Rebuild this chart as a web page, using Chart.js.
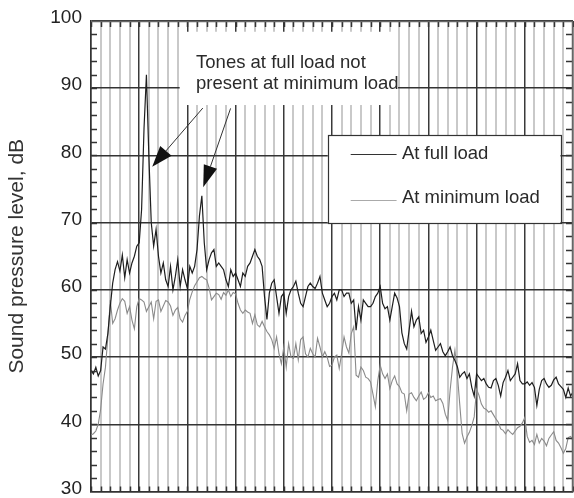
<!DOCTYPE html>
<html>
<head>
<meta charset="utf-8">
<script src="https://cdn.jsdelivr.net/npm/chart.js@4.4.0/dist/chart.umd.min.js"></script>
<style>
  html, body { margin: 0; padding: 0; background: #fff; }
</style>
</head>
<body>
<canvas id="spl" width="574" height="498"></canvas>
<script>
// spectrum, 4 samples per grid cell (50 cells)
var step = 0.25;

var fullLoad = [
  48, 47.5, 48.5, 47.2,   48, 51.5, 51.2, 53.5,   57.5, 61, 63, 64.2,   62.8, 65.2, 61.8, 64.5,
  62.5, 64, 65, 66.5,     67, 72, 84, 92,         80, 70, 66.5, 69,     65, 62.5, 64, 61.5,
  60.5, 63.5, 60, 62,     64.5, 60.5, 63, 61.5,   60.2, 63.5, 62.5, 63.5, 66, 71, 74, 67,
  63, 64.5, 65.5, 66,     63.5, 64, 63.5, 63,     61.5, 60.5, 63, 62,   62.5, 61.5, 60.5, 62.5,
  62, 63.5, 64, 65,       66, 65, 64.5, 63.5,     59, 55.6, 59.5, 61,   61.5, 59, 56.5, 59,
  59.5, 56.5, 59, 60,     60.5, 61.3, 59.5, 58,   57.5, 59, 60.5, 61,   60.5, 60.2, 61, 62,
  59.5, 58.5, 57.5, 58,   59, 59.5, 58.5, 60,     60, 59, 59.5, 59.5,   58, 58.5, 54, 57.5,
  55.5, 58.5, 58, 57.5,   57.5, 58, 59, 59.5,     60.5, 58, 57.2, 57.5, 55.5, 57.5, 59.5, 58.8,
  57.5, 53.6, 52, 51.2,   54, 56.8, 54.5, 55.5,   56, 53.5, 54, 52.2,   53, 54, 52.5, 51,
  51.5, 52, 50.8, 50.2,   50.8, 51.5, 50.2, 49.5, 48.6, 47, 47.5, 47.8, 46.8, 47.5, 45.5, 44.2,
  47.5, 47, 46.5, 46.8,   46, 45.5, 45.4, 46.5,   46.8, 45.8, 44.2, 46.2, 47, 48, 46.5, 47,
  47.5, 49, 46.5, 46,     46, 46.3, 45.8, 46.2,   45.5, 42.8, 45.2, 46.5, 46.8, 46, 45.5, 45.8,
  46.6, 47, 46, 45.6,     45.2, 44, 45.4, 44.2,   44.8
];

var minLoad = [
  38.4, 38.6, 39, 40,     42.2, 46, 48.5, 53,     58.5, 55, 55.7, 57,   58, 58.7, 58.3, 56.5,
  57.5, 55.5, 54.2, 57.5, 58.7, 58.5, 58.2, 56.8, 57.5, 58.2, 55.7, 58.3, 58.5, 56.8, 57.6, 58.4,
  58.2, 57.6, 56.2, 57,   57.4, 55.7, 55.2, 56.2, 56.8, 58.6, 59.7, 60.6, 61.2, 61.8, 62, 61.7,
  61.5, 60.3, 58.5, 59,   59.5, 59.3, 58.6, 59.6, 59.2, 60, 59, 59.6,   59.4, 58, 57, 56.5,
  57, 56.7, 56.5, 55,     56.3, 54.8, 54.5, 55.3, 54.5, 53.8, 53.3, 52.6, 51.3, 53, 50.5, 49,
  51.5, 48.5, 52, 50,     49.8, 52, 49.6, 52.6,   53, 50.5, 50, 51.3,   50.5, 50, 52.8, 51.5,
  50, 50.8, 50, 48.6,     48.8, 50, 50.3, 48.3,   50.5, 53, 51.5, 50.6, 53.5, 54.5, 47.3, 47,
  48.5, 48, 47, 46.8,     46.3, 44.5, 42.6, 46.5, 48.8, 47.5, 46.8, 47.5, 45.3, 46.5, 47.2, 46,
  45.6, 44.7, 44.5, 42,   44.5, 44.7, 44, 43.5,   44.2, 44.8, 43.7, 44, 44.7, 44, 44.2, 43.5,
  43.7, 43.8, 43.1, 41.5, 40.6, 45, 48.5, 51,     47.5, 43, 38.6, 37.2, 38.1, 38.8, 39.8, 41.1,
  45.2, 44.3, 43, 42.4,   42.2, 41.8, 42, 41.4,   40.8, 40.3, 39.3, 39.1, 38.6, 39.2, 38.8, 38.5,
  39, 39.5, 39.7, 40.2,   41, 38.2, 37.3, 37.6,   37, 38.5, 37.2, 37.9, 37.5, 36.8, 37.9, 38.4,
  38.9, 37.6, 37.2, 36.5, 35.7, 36.4, 38, 38.2,   37.6
];

var seriesNames = ["At full load", "At minimum load"];
var noteLines = ["Tones at full load not", "present at minimum load"];
var yTitle = "Sound pressure level, dB";

var FONT = '"Liberation Sans", Arial, sans-serif';

function toPoints(vals) {
  return vals.map(function (v, i) { return { x: i * step, y: v }; });
}

function arrow(ctx, x0, y0, x1, y1, len, half) {
  var ang = Math.atan2(y1 - y0, x1 - x0);
  var bx = x1 - len * Math.cos(ang), by = y1 - len * Math.sin(ang);
  ctx.beginPath();
  ctx.moveTo(x0, y0);
  ctx.lineTo(bx, by);
  ctx.stroke();
  ctx.beginPath();
  ctx.moveTo(x1, y1);
  ctx.lineTo(bx + half * Math.sin(ang), by - half * Math.cos(ang));
  ctx.lineTo(bx - half * Math.sin(ang), by + half * Math.cos(ang));
  ctx.closePath();
  ctx.fill();
}

// frame ticks, the note with its arrows, and the boxed legend
var decor = {
  id: 'decor',
  afterDatasetsDraw: function (chart) {
    var ctx = chart.ctx, a = chart.chartArea;
    var xs = chart.scales.x, ys = chart.scales.y;
    var px = function (c) { return xs.getPixelForValue(c); };
    var py = function (v) { return ys.getPixelForValue(v); };
    ctx.save();

    // white patch under the note
    ctx.fillStyle = '#fff';
    ctx.fillRect(px(9.2), py(98.4), px(31.85) - px(9.2), py(87.5) - py(98.4));

    ctx.strokeStyle = '#333';
    ctx.lineWidth = 1.5;
    ctx.beginPath();
    for (var c = 0; c <= 50; c++) {
      var x = Math.round(px(c)) + 0.5;
      ctx.moveTo(x, a.top); ctx.lineTo(x, a.top + 6);
      ctx.moveTo(x, a.bottom); ctx.lineTo(x, a.bottom - 5);
    }
    for (var v = 32; v < 100; v += 2) {
      var y = Math.round(py(v)) + 0.5;
      ctx.moveTo(a.left, y); ctx.lineTo(a.left + 6, y);
      ctx.moveTo(a.right, y); ctx.lineTo(a.right - 7, y);
    }
    ctx.stroke();

    ctx.strokeStyle = '#666';
    ctx.beginPath();
    ctx.moveTo(a.left, a.top + 0.5); ctx.lineTo(a.right, a.top + 0.5);
    ctx.moveTo(a.right - 0.5, a.top); ctx.lineTo(a.right - 0.5, a.bottom);
    ctx.stroke();

    // note
    ctx.fillStyle = '#2a2a2a';
    ctx.font = '18.5px ' + FONT;
    ctx.textBaseline = 'alphabetic';
    ctx.textAlign = 'left';
    ctx.fillText(noteLines[0], px(10.9), py(93.05));
    ctx.fillText(noteLines[1], px(10.9), py(89.88));

    ctx.strokeStyle = '#333';
    ctx.fillStyle = '#111';
    ctx.lineWidth = 1;
    arrow(ctx, px(11.6), py(87.05), px(6.35), py(78.3), 21, 7.5);
    arrow(ctx, px(14.48), py(87.0), px(11.64), py(75.25), 22, 7);

    // legend
    var lx0 = px(24.56), lx1 = px(48.7), ly0 = py(83.04), ly1 = py(69.94);
    ctx.fillStyle = '#fff';
    ctx.fillRect(lx0, ly0, lx1 - lx0, ly1 - ly0);
    ctx.strokeStyle = '#333';
    ctx.lineWidth = 1.2;
    ctx.strokeRect(Math.round(lx0) + 0.5, Math.round(ly0) + 0.5, Math.round(lx1 - lx0), Math.round(ly1 - ly0));
    var rows = [[80.2, 79.42], [73.36, 72.87]];
    chart.data.datasets.forEach(function (ds, i) {
      var yl = Math.round(py(rows[i][0])) + 0.5;
      ctx.strokeStyle = i === 0 ? '#333' : '#aaa';
      ctx.lineWidth = 1;
      ctx.beginPath();
      ctx.moveTo(px(26.94), yl); ctx.lineTo(px(31.7), yl);
      ctx.stroke();
      ctx.fillStyle = '#2a2a2a';
      ctx.font = '18.5px ' + FONT;
      ctx.fillText(ds.label, px(32.26), py(rows[i][1]));
    });

    ctx.restore();
  }
};

new Chart(document.getElementById('spl').getContext('2d'), {
  type: 'line',
  data: {
    datasets: [{
      label: seriesNames[0],
      data: toPoints(fullLoad),
      borderColor: '#1e1e1e',
      borderWidth: 1.2,
      pointRadius: 0,
      tension: 0
    }, {
      label: seriesNames[1],
      data: toPoints(minLoad),
      borderColor: '#8a8a8a',
      borderWidth: 1.1,
      pointRadius: 0,
      tension: 0
    }]
  },
  options: {
    responsive: false,
    animation: false,
    devicePixelRatio: 1,
    layout: { padding: { top: 21, right: 1, left: 0, bottom: 0 } },
    plugins: {
      legend: { display: false },
      tooltip: { enabled: false }
    },
    scales: {
      x: {
        type: 'linear',
        min: 0,
        max: 50,
        ticks: { display: false, stepSize: 1 },
        border: { color: '#333', width: 1.5 },
        grid: {
          drawTicks: false,
          color: function (c) { return c.tick && c.tick.value % 5 === 0 ? '#3a3a3a' : '#c9c9c9'; },
          lineWidth: function (c) { return c.tick && c.tick.value % 5 === 0 ? 1.5 : 2; }
        },
        afterFit: function (s) { s.height = 6.5; s.paddingLeft = 0; s.paddingRight = 0; }
      },
      y: {
        min: 30,
        max: 100,
        ticks: {
          stepSize: 2,
          autoSkip: false,
          padding: 9,
          labelOffset: -3,
          color: '#222',
          font: { family: FONT, size: 19 },
          callback: function (v) { return v % 10 === 0 ? v : ''; }
        },
        border: { color: '#333', width: 1.5 },
        grid: {
          drawTicks: false,
          color: function (c) { return c.tick && c.tick.value % 10 === 0 ? '#333' : 'rgba(0,0,0,0)'; },
          lineWidth: 1.5
        },
        title: {
          display: true,
          text: yTitle,
          color: '#333',
          font: { family: FONT, size: 21 },
          padding: { top: 5, bottom: 0 }
        },
        afterFit: function (s) { s.width = 91; s.paddingTop = 0; s.paddingBottom = 0; }
      }
    }
  },
  plugins: [decor]
});
</script>
</body>
</html>
